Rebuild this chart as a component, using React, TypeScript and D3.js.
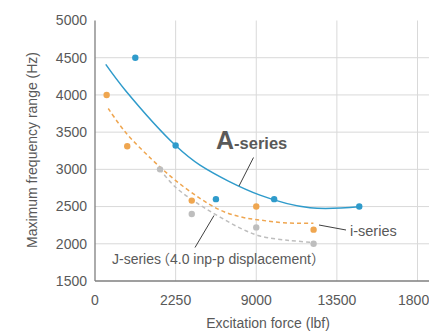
import React from 'react';
import * as d3 from 'd3';

// tick values and the labels printed under them (as in the source)
const xTicks = [0, 4500, 9000, 13500, 18000];
const xTickLabels = ['0', '2250', '9000', '13500', '18000'];
const yTicks = [1500, 2000, 2500, 3000, 3500, 4000, 4500, 5000];

// measured points
const aX = [2250, 4500, 6750, 10000, 14750];
const aY = [4500, 3320, 2600, 2600, 2500];
const iX = [650, 1800, 5400, 9000, 12200];
const iY = [4000, 3310, 2580, 2500, 2190];
const jX = [3630, 5400, 9000, 12200];
const jY = [3000, 2400, 2220, 2000];

// trend curves as drawn
const aTrendX = [600, 1700, 4500, 5860, 9210, 12000, 14740];
const aTrendY = [4410, 4060, 3320, 3057, 2654, 2484, 2497];
const iTrendX = [740, 1680, 3170, 4470, 5860, 6980, 8100, 9210, 10510, 12190];
const iTrendY = [3818, 3504, 3134, 2856, 2610, 2453, 2363, 2319, 2283, 2275];
const jTrendX = [3630, 4470, 5860, 6980, 8100, 9210, 10890, 12170];
const jTrendY = [3000, 2766, 2520, 2359, 2211, 2104, 2044, 2019];

const BLUE = '#2F9BCB';
const ORANGE = '#EFA650';
const GRAY = '#BEBEBE';
const TEXT = '#595959';
const FONT = '"Liberation Sans", Arial, "Noto Sans CJK JP", sans-serif';

const width = 429;
const height = 331;

const App: React.FC = () => {
  const x = d3.scaleLinear().domain([0, 18000]).range([95, 417.5]);
  const y = d3.scaleLinear().domain([1500, 5000]).range([281, 20.5]);

  const line = d3
    .line<[number, number]>()
    .x(d => x(d[0]))
    .y(d => y(d[1]))
    .curve(d3.curveCatmullRom.alpha(0.5));

  const zip = (xs: number[], ys: number[]) => xs.map((v, i) => [v, ys[i]] as [number, number]);

  return (
    <svg
      width={width}
      height={height}
      style={{ position: 'absolute', left: 0, top: 0, background: '#fff' }}
      fontFamily={FONT}
    >
      {/* grid */}
      {yTicks.filter(t => t > 1500 && t < 5000).map(t => (
        <line key={'gy' + t} x1={x(0)} x2={width} y1={y(t)} y2={y(t)} stroke="#D9D9D9" strokeWidth={1} />
      ))}
      {xTicks.filter(t => t > 0).map(t => (
        <line key={'gx' + t} x1={x(t)} x2={x(t)} y1={y(5000)} y2={y(1500)} stroke="#D9D9D9" strokeWidth={1} />
      ))}

      {/* axes */}
      <line x1={x(0)} x2={x(0)} y1={y(5000)} y2={y(1500)} stroke="#7F7F7F" strokeWidth={1.3} />
      <line x1={x(0)} x2={width} y1={y(1500)} y2={y(1500)} stroke="#7F7F7F" strokeWidth={1.3} />

      {yTicks.map(t => (
        <text key={'ty' + t} x={87} y={y(t)} dy="0.35em" textAnchor="end" fontSize={14} fill={TEXT}>
          {t}
        </text>
      ))}
      {xTicks.map((t, i) => (
        <text key={'tx' + t} x={x(t)} y={305} textAnchor="middle" fontSize={14} fill={TEXT}>
          {xTickLabels[i]}
        </text>
      ))}

      <text x={268} y={328} textAnchor="middle" fontSize={14} fill={TEXT}>
        Excitation force (lbf)
      </text>
      <text
        transform={`translate(37,150) rotate(-90)`}
        textAnchor="middle"
        fontSize={14}
        fill={TEXT}
      >
        Maximum frequency range (Hz)
      </text>

      {/* trend curves */}
      <path d={line(zip(jTrendX, jTrendY)) || ''} fill="none" stroke={GRAY} strokeWidth={1.5} strokeDasharray="4,3" />
      <path d={line(zip(iTrendX, iTrendY)) || ''} fill="none" stroke={ORANGE} strokeWidth={1.5} strokeDasharray="4,3" />
      <path d={line(zip(aTrendX, aTrendY)) || ''} fill="none" stroke={BLUE} strokeWidth={1.5} />

      {/* points */}
      {jX.map((v, i) => (
        <circle key={'j' + i} cx={x(v)} cy={y(jY[i])} r={3.2} fill={GRAY} />
      ))}
      {iX.map((v, i) => (
        <circle key={'i' + i} cx={x(v)} cy={y(iY[i])} r={3.2} fill={ORANGE} />
      ))}
      {aX.map((v, i) => (
        <circle key={'a' + i} cx={x(v)} cy={y(aY[i])} r={3.2} fill={BLUE} />
      ))}

      {/* annotations */}
      <line x1={253.5} y1={157.5} x2={239} y2={186} stroke="#404040" strokeWidth={1} />
      <text x={216} y={148.5} fill={TEXT} fontWeight="bold">
        <tspan fontSize={25}>A</tspan>
        <tspan fontSize={16.5}>-series</tspan>
      </text>

      <line x1={319} y1={225} x2={346} y2={230} stroke="#404040" strokeWidth={1} />
      <text x={350} y={236} fontSize={14.5} fill={TEXT}>
        i-series
      </text>

      <line x1={195} y1={247.5} x2={214} y2={215.5} stroke="#404040" strokeWidth={1} />
      <text x={112} y={263.5} fontSize={14} fill={TEXT}>
        J-series<tspan dx={-5}>（</tspan>4.0 inp-p displacement）
      </text>
    </svg>
  );
};

export default App;
